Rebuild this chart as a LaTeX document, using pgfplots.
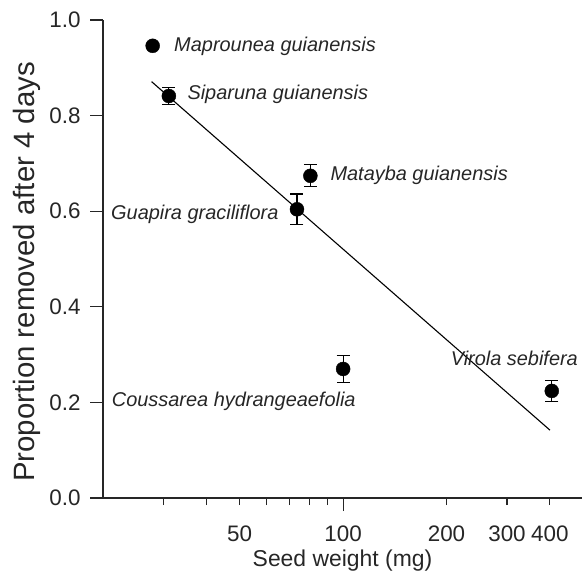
\documentclass[border=0pt]{standalone}
\usepackage{pgfplots}
\pgfplotsset{compat=1.18}
\usepackage{pgfplotstable}
\usepackage{fontspec}
\setmainfont{Liberation Sans}

\pgfplotstableread{
x y e
31.1 0.841 0.017
73.4 0.604 0.032
80.3 0.674 0.023
100 0.270 0.028
405 0.224 0.022
}\errtable

\begin{document}
\begin{tikzpicture}
\begin{axis}[
  scale only axis, width=479bp, height=478bp,
  xmode=log, xmin=20, xmax=496, ymin=0, ymax=1,
  axis lines=left, axis line style={-, line width=1.3pt, black!85},
  clip=false,
  tick align=outside,
  tick style={line width=1.1pt, black!85},
  major tick length=13bp, minor tick length=7bp,
  xtick={100}, xticklabels={100},
  minor xtick={30,40,50,60,70,80,90,200,300,400},
  extra x ticks={50,200,300,400}, extra x tick labels={50,200,300,400},
  extra x tick style={tick style={draw=none}},
  ytick={0,0.2,0.4,0.6,0.8,1},
  yticklabel style={xshift=-6bp, /pgf/number format/.cd, fixed, fixed zerofill, precision=1},
  /pgf/number format/assume math mode=true,
  ticklabel style={font=\fontsize{22.5}{26}\selectfont, text=black!85},
  xticklabel style={yshift=-11bp},
  xlabel={Seed weight (mg)},
  ylabel={Proportion removed after 4 days},
  xlabel style={font=\fontsize{23}{27}\selectfont, text=black!85,
    at={(axis description cs:0.5,-0.1423)}, anchor=base},
  ylabel style={font=\fontsize{29.5}{33}\selectfont, text=black!85,
    at={(axis description cs:-0.142,0.473)}, anchor=base},
]
\addplot[black, line width=1.1pt] coordinates {(27.7,0.871) (400,0.142)};
\addplot[only marks, mark=*, mark size=7bp, black] coordinates {(27.9,0.946)};
\addplot[only marks, mark=*, mark size=7bp, black,
  error bars/.cd, y dir=both, y explicit,
  error bar style={line width=1.1pt, black},
  error mark options={rotate=90, mark size=6.5bp, line width=1.1pt, black}]
  table[x=x, y=y, y error=e] {\errtable};
\begin{scope}[every node/.style={inner sep=0pt, font=\itshape\fontsize{20}{24}\selectfont, text=black!85}]
\node[anchor=base west] at (axis cs:32.2,0.934) {Maprounea guianensis};
\node[anchor=base west] at (axis cs:35.2,0.834) {Siparuna guianensis};
\node[anchor=base west] at (axis cs:91.8,0.665) {Matayba guianensis};
\node[anchor=base east] at (axis cs:64.9,0.582) {Guapira graciliflora};
\node[anchor=base west] at (axis cs:21.2,0.192) {Coussarea hydrangeaefolia};
\node[anchor=base east] at (axis cs:483,0.278) {Virola sebifera};
\end{scope}
\end{axis}
\pgfresetboundingbox
\path (current axis.south west) ++(-103bp,-76bp) rectangle ++(584bp,574bp);
\end{tikzpicture}
\end{document}
